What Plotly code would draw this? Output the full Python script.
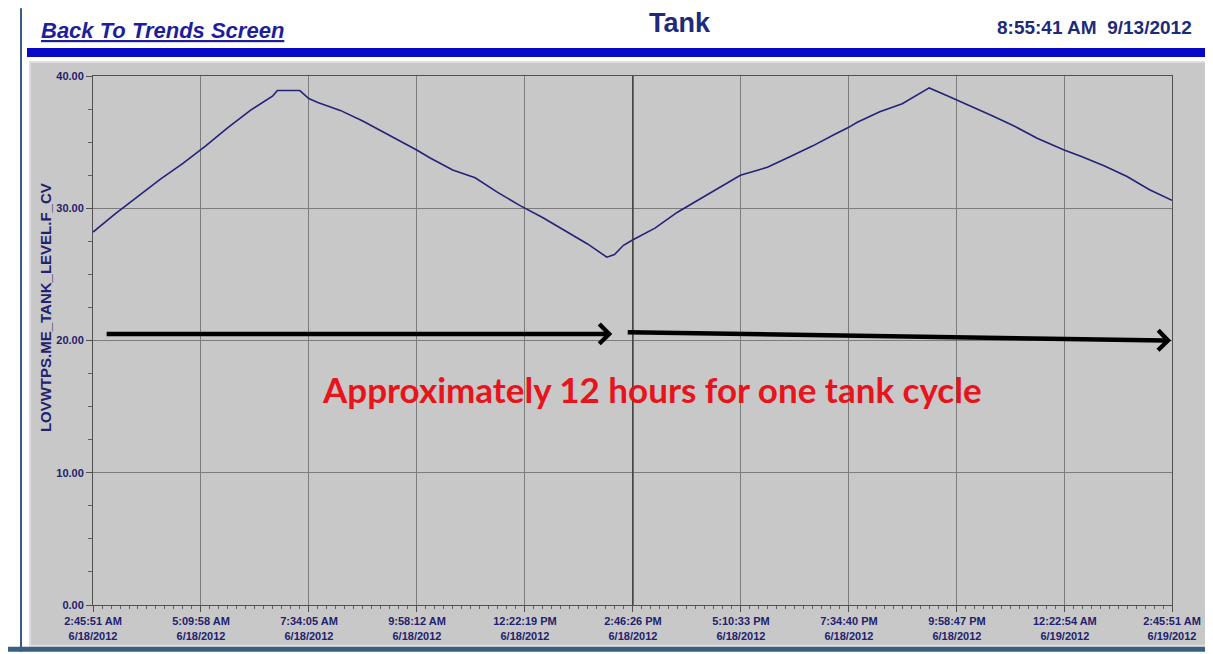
import pandas as pd
import plotly.graph_objects as go

# ---- data ----
start_time = "2012-06-18 02:45:51"
end_time = "2012-06-19 02:45:51"
hours = [0.0, 0.5, 1.0, 1.5, 2.0, 2.5, 3.0, 3.5, 4.0, 4.1, 4.6, 4.8, 5.0, 5.5, 6.0,
         6.5, 7.0, 7.2, 7.5, 8.0, 8.5, 9.0, 9.5, 10.0, 10.5, 11.0, 11.43, 11.6, 11.8,
         12.0, 12.5, 13.0, 13.5, 14.0, 14.4, 14.8, 15.0, 15.5, 16.0, 16.5, 16.8, 17.0,
         17.5, 18.0, 18.6, 19.0, 19.2, 19.5, 20.0, 20.5, 21.0, 21.6, 22.0, 22.5, 23.0,
         23.5, 24.0]
level = [28.2, 29.6, 30.9, 32.2, 33.4, 34.7, 36.1, 37.4, 38.5, 38.9, 38.9, 38.3, 38.0,
         37.4, 36.6, 35.7, 34.8, 34.4, 33.8, 32.9, 32.3, 31.2, 30.2, 29.3, 28.3, 27.3,
         26.3, 26.5, 27.2, 27.6, 28.5, 29.7, 30.7, 31.7, 32.5, 32.9, 33.1, 33.9, 34.7,
         35.6, 36.1, 36.5, 37.3, 37.9, 39.1, 38.5, 38.2, 37.8, 37.0, 36.2, 35.3, 34.4,
         33.9, 33.2, 32.4, 31.4, 30.6]
tick_times = ["2012-06-18 02:45:51", "2012-06-18 05:09:58", "2012-06-18 07:34:05",
              "2012-06-18 09:58:12", "2012-06-18 12:22:19", "2012-06-18 14:46:26",
              "2012-06-18 17:10:33", "2012-06-18 19:34:40", "2012-06-18 21:58:47",
              "2012-06-19 00:22:54", "2012-06-19 02:45:51"]
tick_labels = ["2:45:51 AM<br>6/18/2012", "5:09:58 AM<br>6/18/2012", "7:34:05 AM<br>6/18/2012",
               "9:58:12 AM<br>6/18/2012", "12:22:19 PM<br>6/18/2012", "2:46:26 PM<br>6/18/2012",
               "5:10:33 PM<br>6/18/2012", "7:34:40 PM<br>6/18/2012", "9:58:47 PM<br>6/18/2012",
               "12:22:54 AM<br>6/19/2012", "2:45:51 AM<br>6/19/2012"]
y_ticks = [0, 10, 20, 30, 40]
y_labels = ["0.00", "10.00", "20.00", "30.00", "40.00"]
cursor_time = "2012-06-18 14:46:26"

t0 = pd.Timestamp(start_time)
times = [t0 + pd.Timedelta(hours=h) for h in hours]

def hr(h):
    return t0 + pd.Timedelta(hours=h)

# page body adds an 8px offset; figure is sized/positioned to compensate
OFF = 8
W, H = 1213 - OFF, 654 - OFF
L, R, T, B = 93 - OFF, 1172 - OFF, 76 - OFF, 607 - OFF
def px(x):  # screen x -> paper
    return (x - OFF - L) / (R - L)
def py(y):  # screen y -> paper
    return (B - (y - OFF)) / (B - T)

NAVY = "#22226e"
TICKFONT = dict(family="Liberation Sans Narrow, Arial Narrow, Liberation Sans, Arial",
                size=11, color=NAVY, weight="bold")

fig = go.Figure()
fig.add_trace(go.Scatter(x=times, y=level, mode="lines",
                         line=dict(color="#23237a", width=1.6), hoverinfo="skip",
                         showlegend=False))

shapes = []
shapes.append(dict(type="rect", xref="paper", yref="paper", x0=px(20), x1=px(22), y0=py(8), y1=py(654),
                   fillcolor="#3a5a88", line=dict(width=0), layer="below"))
shapes.append(dict(type="rect", xref="paper", yref="paper", x0=px(27), x1=px(1213), y0=py(48), y1=py(57),
                   fillcolor="#0808c8", line=dict(width=0), layer="below"))
shapes.append(dict(type="rect", xref="paper", yref="paper", x0=px(30), x1=px(1207), y0=py(62), y1=py(648),
                   fillcolor="#c8c8c8", line=dict(color="#dedede", width=2), layer="below"))
shapes.append(dict(type="rect", xref="paper", yref="paper", x0=px(8), x1=px(1213), y0=py(649), y1=py(654),
                   fillcolor="#3d5f7f", line=dict(width=0), layer="below"))
# cursor line
shapes.append(dict(type="line", xref="x", yref="y", x0=cursor_time, x1=cursor_time, y0=0, y1=40.4,
                   line=dict(color="#303030", width=1.3)))

annotations = []
annotations.append(dict(xref="paper", yref="paper", x=px(39), y=py(30), xanchor="left", yanchor="middle",
                        text="<b><i><u>Back To Trends Screen</u></i></b>", showarrow=False,
                        font=dict(family="Liberation Sans, Arial", size=22, color="#1e1e9c")))
annotations.append(dict(xref="paper", yref="paper", x=px(680), y=py(23), xanchor="center", yanchor="middle",
                        text="<b>Tank</b>", showarrow=False,
                        font=dict(family="Liberation Sans, Arial", size=27, color="#202a78")))
annotations.append(dict(xref="paper", yref="paper", x=px(1194), y=py(27), xanchor="right", yanchor="middle",
                        text="<b>8:55:41 AM  9/13/2012</b>", showarrow=False,
                        font=dict(family="Liberation Sans, Arial", size=19, color="#202a78")))
annotations.append(dict(xref="paper", yref="paper", x=px(45), y=py(309), xanchor="center", yanchor="middle",
                        text="<b>LOVWTPS.ME_TANK_LEVEL.F_CV</b>", showarrow=False, textangle=-90,
                        font=dict(family="Liberation Sans, Arial", size=15, color=NAVY)))
# arrows
annotations.append(dict(x=hr(11.55), y=20.5, ax=hr(0.27), ay=20.5, xref="x", yref="y", axref="x", ayref="y",
                        text="", showarrow=True, arrowhead=4, arrowsize=0.85, arrowwidth=4.5,
                        arrowcolor="#000000"))
annotations.append(dict(x=hr(23.98), y=20.0, ax=hr(11.86), ay=20.63, xref="x", yref="y", axref="x", ayref="y",
                        text="", showarrow=True, arrowhead=4, arrowsize=0.85, arrowwidth=4.5,
                        arrowcolor="#000000"))
annotations.append(dict(x=hr(12.43), y=16.3, xref="x", yref="y", xanchor="center", yanchor="middle",
                        text="<b>Approximately 12 hours for one tank cycle</b>", showarrow=False,
                        font=dict(family="Lato, Noto Sans, Arial", size=35, color="#e8141c")))

fig.update_layout(
    width=W, height=H,
    margin=dict(l=L, r=W - R, t=T, b=H - B, pad=0),
    paper_bgcolor="#ffffff", plot_bgcolor="#c8c8c8",
    shapes=shapes, annotations=annotations, showlegend=False,
)
fig.update_xaxes(type="date", range=[start_time, end_time],
                 tickvals=tick_times, ticktext=tick_labels, tickfont=TICKFONT,
                 showgrid=True, gridcolor="#7c7c7c", gridwidth=1,
                 showline=True, linecolor="#505050", linewidth=1, mirror=True,
                 ticks="outside", ticklen=6, tickcolor="#505050",
                 minor=dict(ticks="outside", ticklen=3, tickcolor="#606060",
                            dtick=720583, tick0=start_time, showgrid=False),
                 zeroline=False)
fig.update_yaxes(range=[0, 40], tickvals=y_ticks, ticktext=y_labels, tickfont=TICKFONT,
                 showgrid=True, gridcolor="#7c7c7c", gridwidth=1,
                 showline=True, linecolor="#505050", linewidth=1, mirror=True,
                 ticks="outside", ticklen=6, tickcolor="#505050",
                 minor=dict(ticks="outside", ticklen=4, tickcolor="#606060", dtick=2.5, tick0=0,
                            showgrid=False),
                 zeroline=False)

fig.write_html("out.html")
